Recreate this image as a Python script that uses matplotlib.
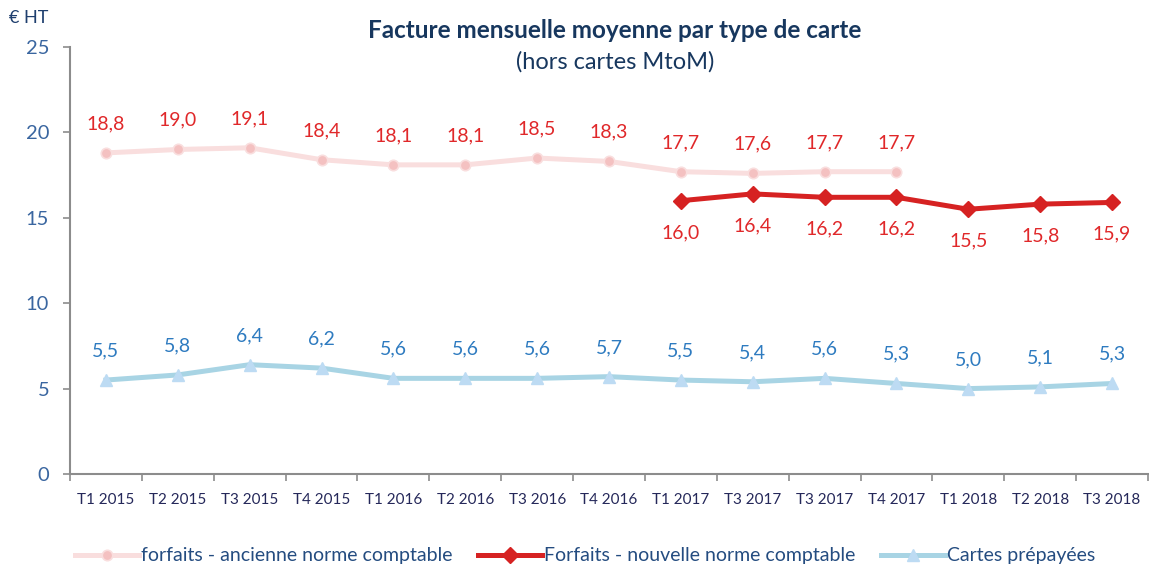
import matplotlib
matplotlib.use("Agg")
import matplotlib.pyplot as plt
import numpy as np

plt.rcParams['font.family'] = ['Lato', 'DejaVu Sans']

quarters = ["T1 2015", "T2 2015", "T3 2015", "T4 2015", "T1 2016", "T2 2016",
            "T3 2016", "T4 2016", "T1 2017", "T3 2017", "T3 2017", "T4 2017",
            "T1 2018", "T2 2018", "T3 2018"]
forfaits_ancienne = [18.8, 19.0, 19.1, 18.4, 18.1, 18.1, 18.5, 18.3, 17.7, 17.6, 17.7, 17.7,
                     None, None, None]
forfaits_nouvelle = [None, None, None, None, None, None, None, None,
                     16.0, 16.4, 16.2, 16.2, 15.5, 15.8, 15.9]
cartes_prepayees = [5.5, 5.8, 6.4, 6.2, 5.6, 5.6, 5.6, 5.7, 5.5, 5.4, 5.6, 5.3, 5.0, 5.1, 5.3]

def to_arr(v):
    return np.array([np.nan if x is None else x for x in v], dtype=float)

x = np.arange(len(quarters))
old = to_arr(forfaits_ancienne)
new = to_arr(forfaits_nouvelle)
pre = to_arr(cartes_prepayees)

fig = plt.figure(figsize=(11.49, 5.72), dpi=100)
ax = fig.add_axes([70 / 1149, 98 / 572, 1078 / 1149, 427 / 572])

c_old_line, c_old_mk = "#F9DEDE", "#F4C1C1"
c_new = "#D62222"
c_pre_line, c_pre_mk = "#A8D4E4", "#BDDBF3"
c_red_lbl = "#E0282A"
c_blue_lbl = "#2E7BC0"

ax.plot(x, old, color=c_old_line, lw=3.6, marker="o", ms=7.5,
        mfc=c_old_mk, mec=c_old_line, mew=1.2, label="forfaits - ancienne norme comptable",
        zorder=2)
ax.plot(x, new, color=c_new, lw=3.6, marker="D", ms=8, mfc=c_new, mec=c_new,
        label="Forfaits - nouvelle norme comptable", zorder=3)
ax.plot(x, pre, color=c_pre_line, lw=3.6, marker="^", ms=9, mfc=c_pre_mk, mec=c_pre_mk,
        label="Cartes prépayées", zorder=2)

def fmt(v):
    return f"{v:.1f}".replace(".", ",")

lbl_size = 14
for xi, v in zip(x, old):
    if not np.isnan(v):
        ax.annotate(fmt(v), (xi, v), xytext=(0, 21), textcoords="offset points",
                    ha="center", va="center", color=c_red_lbl, fontsize=lbl_size)
for xi, v in zip(x, new):
    if not np.isnan(v):
        ax.annotate(fmt(v), (xi, v), xytext=(0, -23), textcoords="offset points",
                    ha="center", va="center", color=c_red_lbl, fontsize=lbl_size)
for xi, v in zip(x, pre):
    ax.annotate(fmt(v), (xi, v), xytext=(0, 21), textcoords="offset points",
                ha="center", va="center", color=c_blue_lbl, fontsize=lbl_size)

ax.set_xlim(-0.5, len(quarters) - 0.5)
ax.set_ylim(0, 25)
ax.set_yticks([0, 5, 10, 15, 20, 25])
ax.set_yticklabels(["0", "5", "10", "15", "20", "25"])
ax.set_xticks(x)
ax.set_xticklabels(quarters)
ax.set_xticks(np.arange(-0.5, len(quarters), 1), minor=True)
ax.tick_params(axis="x", which="major", length=0, pad=14, labelsize=11, labelcolor="#25285A")
ax.tick_params(axis="x", which="minor", length=5, width=1.2, color="#8C8C8C", direction="out")
ax.tick_params(axis="y", length=5, width=1.2, color="#8C8C8C", labelsize=14.5,
               labelcolor="#3A66A0", pad=10)

for s in ["top", "right"]:
    ax.spines[s].set_visible(False)
for s in ["left", "bottom"]:
    ax.spines[s].set_color("#8C8C8C")
    ax.spines[s].set_linewidth(1.5)

fig.text(48 / 1149, 1 - 18 / 572, "€ HT", ha="right", va="center", color="#1F3F6E", fontsize=13)
fig.text(615 / 1149, 1 - 30 / 572, "Facture mensuelle moyenne par type de carte",
         ha="center", va="center", color="#17375E", fontsize=17.5, fontweight="bold")
fig.text(615 / 1149, 1 - 62 / 572, "(hors cartes MtoM)",
         ha="center", va="center", color="#17375E", fontsize=17)

leg = fig.legend(loc="center", bbox_to_anchor=(585 / 1149, 1 - 556 / 572), ncol=3,
                 frameon=False, fontsize=14, handlelength=3.3, columnspacing=1.3,
                 handletextpad=0.1)
for t in leg.get_texts():
    t.set_color("#244C80")

fig.savefig("out.png", dpi=100)
